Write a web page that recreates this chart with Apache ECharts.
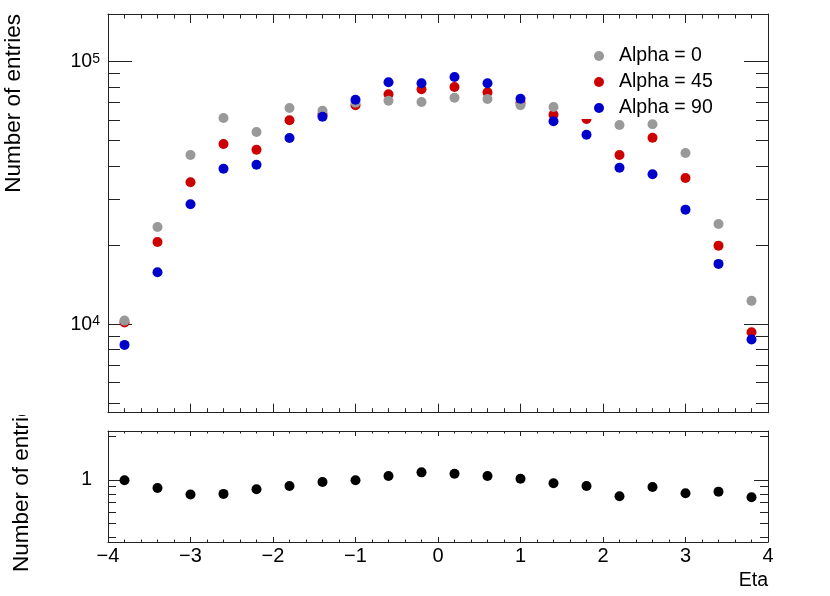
<!DOCTYPE html>
<html>
<head>
<meta charset="utf-8">
<script src="https://cdn.jsdelivr.net/npm/echarts@6/dist/echarts.min.js"></script>
<style>
html,body{margin:0;padding:0;background:#fff;}
#chart{width:830px;height:596px;}
</style>
</head>
<body>
<div id="chart"></div>
<script>
// ---- data ----
const etaBins = [-3.8, -3.4, -3.0, -2.6, -2.2, -1.8, -1.4, -1.0, -0.6, -0.2, 0.2, 0.6, 1.0, 1.4, 1.8, 2.2, 2.6, 3.0, 3.4, 3.8];
const alpha0  = [10320, 23470, 44120, 61040, 53990, 66640, 65080, 69800, 71040, 70220, 72950, 72100, 68230, 67220, 66570, 57410, 57770, 44900, 24100, 12270];
const alpha45 = [10150, 20580, 34730, 48610, 46230, 59820, 63000, 68230, 75140, 78500, 80100, 76440, 69700, 62830, 60510, 44120, 51350, 36070, 19920, 9320];
const alpha90 = [8340, 15780, 28640, 39130, 40530, 51220, 61740, 71650, 83500, 82760, 87450, 82760, 72300, 59300, 52720, 39480, 37260, 27320, 16970, 8737];
const ratio   = [0.995, 0.881, 0.792, 0.801, 0.863, 0.909, 0.969, 0.995, 1.066, 1.130, 1.105, 1.066, 1.021, 0.949, 0.909, 0.772, 0.895, 0.809, 0.830, 0.760];
const seriesNames = ['Alpha = 0', 'Alpha = 45', 'Alpha = 90'];
const yTitle = 'Number of entries';
const xTitle = 'Eta';

const FONT = 'Liberation Sans, Arial, Helvetica, sans-serif';
const LINE = '#222';
const pts = arr => etaBins.map((x, i) => [x, arr[i]]);
const minus = v => (v < 0 ? '\u2212' + (-v) : String(v));
const isPow10 = v => { const l = Math.log10(v); return Math.abs(l - Math.round(l)) < 1e-6; };

function xAx(grid, pos, showLabel, tickLen, minorLen) {
  return {
    type: 'value', gridIndex: grid, position: pos, min: -4, max: 4, interval: 1,
    axisLine: {show: true, onZero: false, lineStyle: {color: LINE, width: 1}},
    axisTick: {show: true, inside: true, length: tickLen, lineStyle: {color: LINE, width: 1}},
    minorTick: {show: true, splitNumber: 5, length: minorLen, lineStyle: {color: LINE, width: 1}},
    splitLine: {show: false}, minorSplitLine: {show: false},
    axisLabel: {show: showLabel, margin: 4, fontSize: 20, fontFamily: FONT, color: '#000', formatter: minus,
                showMinLabel: true, showMaxLabel: true}
  };
}
function yAx(grid, pos, min, max, showLabel, tickLen, minorLen, labelMargin, fmt) {
  return {
    type: 'log', logBase: 10, gridIndex: grid, position: pos, min: min, max: max,
    axisLine: {show: true, onZero: false, lineStyle: {color: LINE, width: 1}},
    axisTick: {show: true, inside: true, length: tickLen, lineStyle: {color: LINE, width: 1}},
    minorTick: {show: true, splitNumber: 9, length: minorLen, lineStyle: {color: LINE, width: 1}},
    splitLine: {show: false}, minorSplitLine: {show: false},
    axisLabel: {show: showLabel, margin: labelMargin, fontSize: 20, fontFamily: FONT, color: '#000',
                lineHeight: 20, formatter: fmt,
                rich: {b: {fontSize: 19.5, fontFamily: FONT, lineHeight: 20, color: '#000'},
                       sup: {fontSize: 14, fontFamily: FONT, lineHeight: 12, verticalAlign: 'top', color: '#000'}}}
  };
}
const topFmt = v => isPow10(v) ? '{b|10}{sup|' + Math.round(Math.log10(v)) + '}' : '';
const botFmt = v => (isPow10(v) && Math.round(Math.log10(v)) === 0) ? '{b|1}' : '';

const chart = echarts.init(document.getElementById('chart'), null, {renderer: 'canvas'});
chart.setOption({
  animation: false,
  backgroundColor: '#fff',
  grid: [
    {left: 108, right: 62, top: 14, height: 398.7, containLabel: false, outerBoundsMode: 'none'},
    {left: 108, right: 62, top: 431, height: 111, containLabel: false, outerBoundsMode: 'none'}
  ],
  xAxis: [
    xAx(0, 'bottom', false, 9, 4.5),
    xAx(0, 'top', false, 9, 4.5),
    xAx(1, 'bottom', true, 5, 2.5),
    xAx(1, 'top', false, 5, 2.5)
  ],
  yAxis: [
    yAx(0, 'left', 4600, 152000, true, 24, 12, 8, topFmt),
    yAx(0, 'right', 4600, 152000, false, 24, 12, 8, topFmt),
    yAx(1, 'left', 0.371, 2.19, true, 14, 8, 16, botFmt),
    yAx(1, 'right', 0.371, 2.19, false, 14, 8, 16, botFmt)
  ],
  legend: {
    orient: 'vertical', left: 576, top: 40,
    data: seriesNames, icon: 'circle', itemWidth: 30, itemHeight: 10, itemGap: 6,
    padding: [6, 14, 1, 18], backgroundColor: '#fff', selectedMode: false,
    textStyle: {fontSize: 19.5, fontFamily: FONT, color: '#000', lineHeight: 20}
  },
  series: [
    {name: seriesNames[1], type: 'scatter', xAxisIndex: 0, yAxisIndex: 0, symbol: 'circle', symbolSize: 10,
     itemStyle: {color: '#cc0000', opacity: 1}, data: pts(alpha45)},
    {name: seriesNames[0], type: 'scatter', xAxisIndex: 0, yAxisIndex: 0, symbol: 'circle', symbolSize: 10,
     itemStyle: {color: '#999999', opacity: 1}, data: pts(alpha0)},
    {name: seriesNames[2], type: 'scatter', xAxisIndex: 0, yAxisIndex: 0, symbol: 'circle', symbolSize: 10,
     itemStyle: {color: '#0000cc', opacity: 1}, data: pts(alpha90)},
    {name: 'ratio', type: 'scatter', xAxisIndex: 2, yAxisIndex: 2, symbol: 'circle', symbolSize: 10,
     itemStyle: {color: '#000', opacity: 1}, data: pts(ratio)}
  ],
  graphic: [
    {type: 'text', x: 14, y: 14, rotation: Math.PI / 2, z: 10,
     style: {text: yTitle, fontSize: 22.5, fontFamily: FONT, fill: '#000', align: 'right', verticalAlign: 'middle'}},
    {type: 'text', x: 21.5, y: 572, rotation: Math.PI / 2, z: 10,
     style: {text: yTitle, fontSize: 22.5, fontFamily: FONT, fill: '#000', align: 'left', verticalAlign: 'middle'}},
    {type: 'rect', shape: {x: 0, y: 380, width: 50, height: 35}, z: 20,
     style: {fill: '#fff'}},
    {type: 'text', x: 768, y: 581, z: 10,
     style: {text: xTitle, fontSize: 19.5, fontFamily: FONT, fill: '#000', align: 'right', verticalAlign: 'middle'}}
  ]
});
</script>
</body>
</html>
